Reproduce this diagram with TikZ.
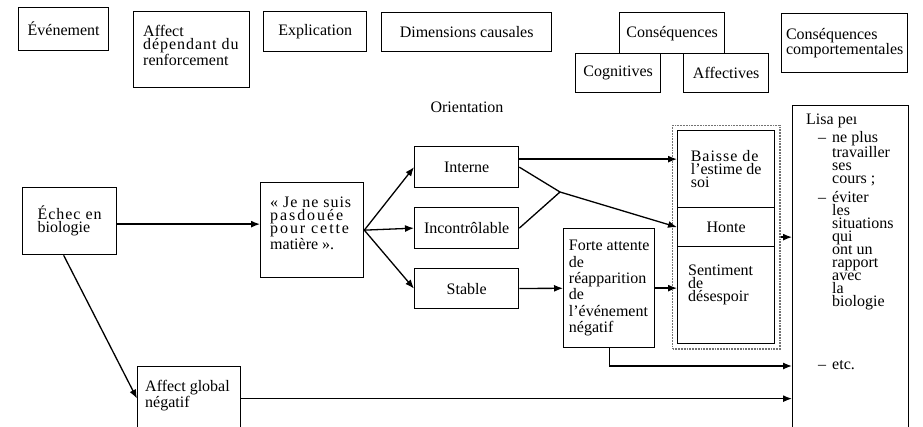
\documentclass[tikz,border=0pt]{standalone}
\usepackage{fontspec}
\setmainfont{Liberation Serif}
\newfontfamily\spacedfont[LetterSpace=6]{Liberation Serif}
\newfontfamily\widefont[LetterSpace=12]{Liberation Serif}
\usepackage{tikz}
\usetikzlibrary{arrows.meta, fit}

\newcommand{\itemdash}{\hspace*{12pt}\makebox[14pt][l]{–}}
\newcommand{\itemgap}{\hspace*{26pt}}

\begin{document}
\begin{tikzpicture}[
    x=1pt, y=-1pt,
    box/.style={draw, line width=1.3pt, inner sep=3pt, align=center,
                anchor=north west, font=\fontsize{16}{13}\selectfont},
    txt/.style={inner sep=0pt, align=left, anchor=north west,
                font=\fontsize{16}{13}\selectfont},
    frame/.style={draw=black!55, densely dotted, line width=1.8pt},
    arrow/.style={-{Latex[length=9pt, width=7pt]}, line width=1.3pt},
    link/.style={line width=1.3pt},
]
    \useasboundingbox (0,0) rectangle (923,427);
    \clip (0,0) rectangle (923,427);
    \fill[white] (0,0) rectangle (923,427);

    % top row
    \node[box, minimum width=90, minimum height=43] (evt) at (18,7) {Événement};
    \node[box, minimum width=116, minimum height=76] (affdep) at (133,11) {};
    \node[txt] (affdep-t) at (143,25) {Affect\\{\spacedfont dépendant du}\\renforcement};
    \node[box, minimum width=103, minimum height=40] (expl) at (263,11) {Explication};
    \node[box, minimum width=170, minimum height=39] (dims) at (381,12) {Dimensions causales};
    \node[box, minimum width=105, minimum height=41] (cons) at (619,12) {Conséquences};
    \node[box, minimum width=85, minimum height=39] (cogn) at (575,53) {Cognitives};
    \node[box, minimum width=85, minimum height=39] (affe) at (683,53) {Affectives};
    \node[box, minimum width=126, minimum height=59, align=left] (conscomp) at (781,13)
        {Conséquences\\comportementales};
    \node[font=\fontsize{16}{13}\selectfont] (orient) at (467,107) {Orientation};

    % event and explanation
    \node[box, minimum width=94, minimum height=67, align=left] (echec) at (22,187)
        {{\spacedfont Échec en}\\biologie};
    \node[box, minimum width=103, minimum height=95] (je) at (260,182) {};
    \node[txt] (je-t) at (270,197)
        {{\spacedfont « Je ne suis}\\{\widefont pasdouée}\\{\widefont pour cette}\\matière ».};

    % causal dimensions
    \node[box, minimum width=104, minimum height=41] (interne) at (414,146) {Interne};
    \node[box, minimum width=104, minimum height=41] (incon) at (414,207) {Incontrôlable};
    \node[box, minimum width=104, minimum height=40] (stable) at (414,268) {Stable};
    \node[box, minimum width=91, minimum height=119, align=left,
          font=\fontsize{16}{16.3}\selectfont] (forte) at (563,228)
        {Forte attente\\de\\réapparition\\de\\l’événement\\négatif};

    % affective consequences
    \node[box, minimum width=97, minimum height=77, align=left] (baisse) at (677,130)
        {{\spacedfont Baisse de}\\l’estime de\\soi};
    \node[box, minimum width=97, minimum height=39] (honte) at (677,207) {Honte};
    \node[box, minimum width=97, minimum height=97] (sentiment) at (677,246) {};
    \node[txt] (sentiment-t) at (688,265) {Sentiment\\de\\désespoir};
    \node[frame, fit=(baisse)(sentiment), inner sep=4.5pt] (col) {};

    % behaviour
    \node[box, minimum width=116, minimum height=340] (lisa) at (792,105) {};
    \node[txt] (lisa-t) at (806,114) {Lisa peı\\[2pt]
        \itemdash ne plus\\ \itemgap travailler\\ \itemgap ses\\ \itemgap cours ;\\[4pt]
        \itemdash éviter\\ \itemgap les\\ \itemgap situations\\ \itemgap qui\\
        \itemgap ont un\\ \itemgap rapport\\ \itemgap avec\\ \itemgap la\\
        \itemgap biologie\\[50pt]
        \itemdash etc.};

    \node[box, minimum width=103, minimum height=64] (affglob) at (137,366) {};
    \node[txt] (affglob-t) at (145,380) {Affect global\\négatif};

    % connectors
    \coordinate (jn) at (560,192);
    \draw[arrow] ([yshift=-3pt]echec.east) -- ([yshift=-3pt]echec.east -| je.west);
    \draw[arrow] (je.east) -- (interne.west);
    \draw[arrow] (je.east) -- (incon.west);
    \draw[arrow] (je.east) -- (stable.west);
    \draw[arrow] ([yshift=8pt]interne.east) -- ([yshift=8pt]interne.east -| baisse.west);
    \draw[link] (interne.east) -- (jn);
    \draw[link] (incon.east) -- (jn);
    \draw[arrow] (jn) -- (honte.west);
    \draw[arrow] (stable) -- (forte);
    \draw[arrow] (forte.east) -- (forte.east -| sentiment.west);
    \draw[arrow] (col.east) -- (col.east -| lisa.west);
    \draw[arrow] (forte.south) |- (lisa.west |- affglob.north);
    \draw[arrow] (affglob) -- (affglob -| lisa.west);
    \draw[arrow] ([xshift=-6pt]echec.south) -- (affglob.west);
\end{tikzpicture}
\end{document}
